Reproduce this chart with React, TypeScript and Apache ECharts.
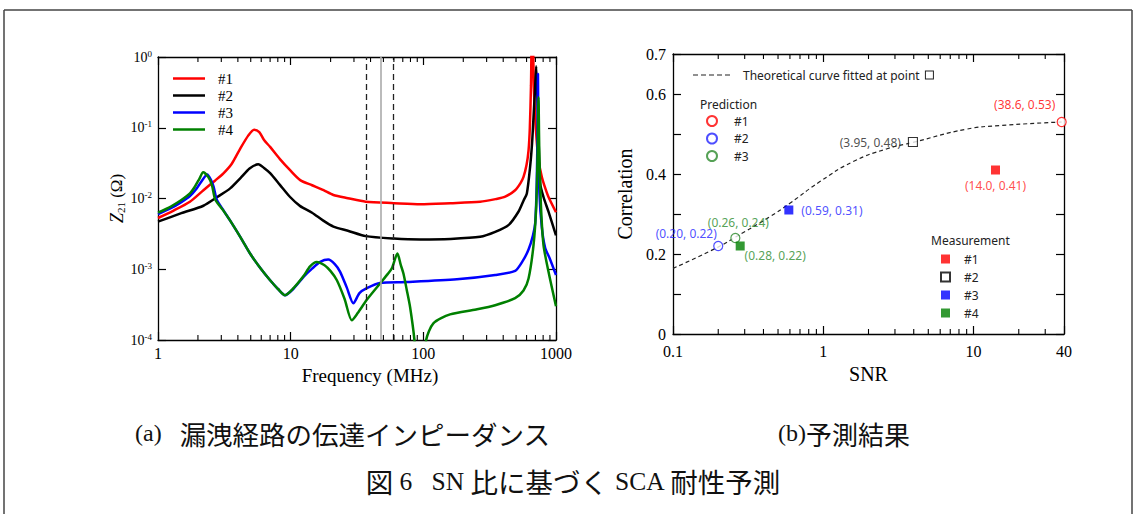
import React, { useEffect, useRef } from "react";
import * as echarts from "echarts";

// ---------------- data ----------------
// (a) transfer impedance Z21 [ohm] vs frequency [MHz]
const leftNames = ["#1", "#2", "#3", "#4"];
const curve1: [number, number][] = [
  [1, 0.0053], [1.3, 0.0067], [1.74, 0.009], [2.2, 0.0131], [2.7, 0.018], [3.1, 0.0225], [3.6, 0.031],
  [4.15, 0.05], [4.8, 0.078], [5.3, 0.094], [5.8, 0.087], [6.3, 0.067], [7.0, 0.0536], [8.3, 0.036],
  [9.9, 0.0251], [11.8, 0.0182], [14.5, 0.0154], [17.7, 0.0131], [21, 0.0112], [27, 0.0101], [36.8, 0.009],
  [60, 0.0086], [95, 0.0083], [160, 0.0086], [268, 0.009], [350, 0.0098], [414, 0.0106], [492, 0.0131],
  [540, 0.0165], [569, 0.0202], [600, 0.03], [621, 0.048], [635, 0.1], [648, 0.4], [658, 2.0], [668, 2.0],
  [680, 0.4], [697, 0.14], [715, 0.066], [738, 0.035], [783, 0.02], [830, 0.014], [878, 0.0105], [1000, 0.0064],
];
const curve2: [number, number][] = [
  [1, 0.0047], [1.5, 0.0062], [2.2, 0.0079], [2.8, 0.0105], [3.5, 0.0139], [4.2, 0.0196], [4.9, 0.0265],
  [5.7, 0.0305], [6.3, 0.027], [7.0, 0.0228], [8.3, 0.0156], [9.9, 0.0105], [11.8, 0.0078], [14.5, 0.0063],
  [17.5, 0.0049], [21, 0.004], [27, 0.0035], [36.8, 0.00294], [60, 0.00272], [95, 0.00264], [160, 0.00268],
  [268, 0.00287], [348, 0.00337], [438, 0.0042], [521, 0.0065], [570, 0.0094], [603, 0.0118], [638, 0.028],
  [660, 0.06], [677, 0.142], [695, 0.35], [709, 0.74], [725, 0.25], [738, 0.08], [760, 0.0163], [805, 0.0105],
  [878, 0.0065], [1000, 0.003],
];
const curve3: [number, number][] = [
  [1, 0.006], [1.25, 0.0073], [1.5, 0.0089], [1.74, 0.0108], [1.95, 0.0137], [2.15, 0.018], [2.35, 0.0218],
  [2.5, 0.0185], [2.63, 0.0145], [2.77, 0.0097], [3.1, 0.0069], [3.49, 0.0049], [4.2, 0.0028], [4.94, 0.00167],
  [6.0, 0.001], [7.0, 0.0007], [8.0, 0.00053], [9.07, 0.00043], [10.5, 0.00053], [12.5, 0.00078], [14.5, 0.00102],
  [16.7, 0.00127], [19.2, 0.00137], [21.5, 0.00118], [23.6, 0.00092], [26.5, 0.00055], [29.7, 0.00033],
  [33, 0.00046], [37.5, 0.00054], [47.2, 0.00064], [75, 0.00066], [179, 0.00072], [348, 0.00083], [492, 0.00095],
  [560, 0.0013], [621, 0.0019], [670, 0.003], [697, 0.0045], [715, 0.015], [725, 0.08], [731, 0.58], [737, 0.08],
  [750, 0.012], [783, 0.0038], [829, 0.002], [900, 0.0014], [1000, 0.00083],
];
const curve4: [number, number][] = [
  [1, 0.0063], [1.25, 0.0077], [1.5, 0.0095], [1.74, 0.0118], [1.9, 0.0148], [2.05, 0.019], [2.19, 0.0235],
  [2.39, 0.0202], [2.55, 0.0155], [2.7, 0.0097], [3.1, 0.0068], [3.49, 0.0049], [4.2, 0.0028], [4.94, 0.00167],
  [6.0, 0.001], [7.0, 0.0007], [8.0, 0.00053], [9.07, 0.00043], [10.5, 0.00054], [12.5, 0.0008], [14.0, 0.0011],
  [15.7, 0.00127], [18, 0.00114], [20, 0.00094], [22.3, 0.0007], [25.5, 0.00038], [28.9, 0.00019], [32, 0.00024],
  [37.5, 0.00037], [47.2, 0.00063], [54, 0.00086], [57.9, 0.00103], [63.8, 0.00167], [67.5, 0.00116],
  [70.8, 0.00087], [75, 0.00051], [79.5, 0.00029], [85.7, 0.0001], [92, 0.00002], [98, 0.00002], [105, 0.0001],
  [119, 0.000172], [159, 0.00023], [250, 0.00027], [348, 0.00031], [492, 0.00039], [569, 0.0005], [621, 0.00074],
  [677, 0.0022], [710, 0.008], [728, 0.05], [738, 0.27], [748, 0.05], [770, 0.008], [805, 0.0022], [878, 0.00092],
  [1000, 0.0003],
];
const markerFreqs = [37, 48, 59]; // MHz: dashed, gray solid, dashed
const leftMinorTicks = [2, 3, 4, 5, 6, 7, 8, 9, 20, 30, 40, 50, 60, 70, 80, 90, 200, 300, 400, 500, 600, 700, 800, 900];

// (b) prediction results: correlation vs SNR
const theoryName = "Theoretical curve fitted at point";
const theoryCurve: [number, number][] = [
  [0.1, 0.164], [0.199, 0.217], [0.261, 0.2425], [0.44, 0.293], [0.6, 0.327], [0.95, 0.381], [1.58, 0.431],
  [2.63, 0.4625], [3.95, 0.479], [8.95, 0.512], [14.9, 0.521], [38.6, 0.53],
];
const predNames = ["#1", "#2", "#3"];
const predSNR = [38.6, 0.2, 0.26];
const predCorr = [0.53, 0.22, 0.24];
const measNames = ["#1", "#2", "#3", "#4"];
const measSNR = [14.0, 3.95, 0.59, 0.28];
const measCorr = [0.41, 0.48, 0.31, 0.22];
const measFilled = [true, false, true, true];
const corrTickLabels = [0, 0.2, 0.4, 0.6, 0.7];
const rightMinorTicks = [0.2, 0.3, 0.4, 0.5, 0.6, 0.7, 0.8, 0.9, 2, 3, 4, 5, 6, 7, 8, 9, 20, 30];

// ---------------- styles ----------------
const SERIF = "'Liberation Serif', 'Times New Roman', serif";
const SANS = "'Noto Sans', 'DejaVu Sans', sans-serif";
const CJK = "'Noto Sans CJK JP', sans-serif";
const leftColors = ["#ff0000", "#000000", "#0000ff", "#008000"];
const predColors = ["#ff0000", "#2222ff", "#2a8a2a"];
const measColors = ["#ff0000", "#000000", "#0000ff", "#008000"];
const measLabelColors = ["#ff2020", "#222222", "#2222ff", "#2a8a2a"];
const predLabelLayout: any[] = [
  { position: "top", offset: [-37, -1] },
  { position: "top", offset: [-32, 4] },
  { position: "top", offset: [3, 1] },
];
const measLabelLayout: any[] = [
  { position: "bottom", distance: 5 },
  { position: "left", distance: 7 },
  { position: "right", distance: 8 },
  { position: "bottom", offset: [35, -6] },
];
const solidLegendIcon = "path://M0,0H32V2.5H0Z";
const dashedLegendIcon =
  "path://M0,0h5v1.2h-5z m8,0h5v1.2h-5z m8,0h5v1.2h-5z m8,0h5v1.2h-5z m8,0h5v1.2h-5z";

const axisLineStyle = { color: "#000", width: 1.3 };
const tickStyle = { color: "#000", width: 1.2 };

function fmtNum(x: number) {
  return x >= 10 ? x.toFixed(1) : x.toFixed(2);
}
function fmtPair(x: number, y: number) {
  return `(${fmtNum(x)}, ${y.toFixed(2)})`;
}

function minorTickSeries(xAxisIndex: number, yAxisIndex: number, ticks: number[], yMin: number, yMax: number, len: number) {
  return {
    type: "custom",
    xAxisIndex,
    yAxisIndex,
    silent: true,
    clip: false,
    z: 6,
    data: ticks.map((v) => [v, yMin]),
    renderItem: (_params: any, api: any) => {
      const v = api.value(0);
      const b = api.coord([v, yMin]);
      const t = api.coord([v, yMax]);
      return {
        type: "group",
        children: [
          { type: "line", shape: { x1: b[0], y1: b[1], x2: b[0], y2: b[1] - len }, style: { stroke: "#000", lineWidth: 1.1 } },
          { type: "line", shape: { x1: t[0], y1: t[1], x2: t[0], y2: t[1] + len }, style: { stroke: "#000", lineWidth: 1.1 } },
        ],
      };
    },
  };
}

function frameAxis(extra: any) {
  return {
    axisLine: { show: true, onZero: false, lineStyle: axisLineStyle },
    axisTick: { show: true, inside: true, length: 8, lineStyle: tickStyle },
    splitLine: { show: false },
    ...extra,
  };
}

function buildOption(): any {
  const leftSeries = [curve1, curve2, curve3, curve4].map((d, i) => ({
    name: leftNames[i],
    type: "line",
    xAxisIndex: 0,
    yAxisIndex: 0,
    data: d,
    symbol: "none",
    smooth: 0.25,
    lineStyle: { color: leftColors[i], width: 2.5 },
    itemStyle: { color: leftColors[i] },
    z: 3,
    ...(i === 0
      ? {
          markLine: {
            silent: true,
            symbol: ["none", "none"],
            label: { show: false },
            animation: false,
            data: markerFreqs.map((f, k) => ({
              xAxis: f,
              lineStyle:
                k === 1
                  ? { color: "#aaaaaa", width: 1.6, type: "solid" }
                  : { color: "#222", width: 1.3, type: [6, 4] },
            })),
          },
        }
      : {}),
  }));

  const predSeries = predSNR.map((x, i) => ({
    name: "Pred " + predNames[i],
    type: "scatter",
    xAxisIndex: 2,
    yAxisIndex: 2,
    symbol: "circle",
    symbolSize: 9,
    data: [[x, predCorr[i]]],
    itemStyle: { color: "#ffffff", borderColor: predColors[i], borderWidth: 1.2 },
    label: {
      show: true,
      formatter: fmtPair(x, predCorr[i]),
      color: predColors[i],
      fontFamily: SANS,
      fontSize: 12,
      ...predLabelLayout[i],
    },
    z: 10,
  }));

  const measSeries = measSNR.map((x, i) => ({
    name: "Meas " + measNames[i],
    type: "scatter",
    xAxisIndex: 2,
    yAxisIndex: 2,
    symbol: "rect",
    symbolSize: 9,
    data: [[x, measCorr[i]]],
    itemStyle: measFilled[i]
      ? { color: measColors[i] }
      : { color: "#ffffff", borderColor: measColors[i], borderWidth: 1.1 },
    label: {
      show: true,
      formatter: fmtPair(x, measCorr[i]),
      color: measLabelColors[i],
      fontFamily: SANS,
      fontSize: 12,
      ...measLabelLayout[i],
    },
    z: 10,
  }));

  return {
    animation: false,
    backgroundColor: "#ffffff",
    grid: [
      { left: 158, top: 57, width: 398, height: 283 },
      { left: 673, top: 54, width: 391, height: 280 },
    ],
    xAxis: [
      frameAxis({
        gridIndex: 0,
        type: "log",
        logBase: 10,
        min: 1,
        max: 1000,
        position: "bottom",
        axisLabel: { formatter: (v: number) => String(Math.round(v)), fontFamily: SERIF, fontSize: 16, color: "#000", margin: 5 },
        name: "Frequency (MHz)",
        nameLocation: "middle",
        nameGap: 22,
        nameTextStyle: { fontFamily: SERIF, fontSize: 19, color: "#000", padding: [0, 0, 0, 26] },
      }),
      frameAxis({ gridIndex: 0, type: "log", logBase: 10, min: 1, max: 1000, position: "top", axisLabel: { show: false } }),
      frameAxis({
        gridIndex: 1,
        type: "log",
        logBase: 10,
        min: 0.1,
        max: 40,
        position: "bottom",
        axisLabel: {
          formatter: (v: number) => String(parseFloat(v.toPrecision(3))),
          fontFamily: SERIF,
          fontSize: 16,
          color: "#000",
          margin: 9,
        },
        name: "SNR",
        nameLocation: "middle",
        nameGap: 28,
        nameTextStyle: { fontFamily: SERIF, fontSize: 20, color: "#000" },
      }),
      frameAxis({ gridIndex: 1, type: "log", logBase: 10, min: 0.1, max: 40, position: "top", axisLabel: { show: false } }),
    ],
    yAxis: [
      frameAxis({
        gridIndex: 0,
        type: "log",
        logBase: 10,
        min: 0.0001,
        max: 1,
        position: "left",
        axisLabel: {
          formatter: (v: number) => `{b|10}{s|${Math.round(Math.log10(v))}}`,
          margin: 6,
          rich: {
            b: { fontFamily: SERIF, fontSize: 14, color: "#000", lineHeight: 16 },
            s: { fontFamily: SERIF, fontSize: 9, color: "#000", lineHeight: 9, verticalAlign: "top" },
          },
        },
        name: "{i|Z}{u|21} (Ω)",
        nameLocation: "middle",
        nameGap: 28,
        nameRotate: 90,
        nameTextStyle: {
          fontFamily: SERIF,
          fontSize: 17,
          color: "#000",
          rich: {
            i: { fontFamily: SERIF, fontStyle: "italic", fontSize: 18, color: "#000", lineHeight: 20 },
            u: { fontFamily: SERIF, fontSize: 11, color: "#000", lineHeight: 12, verticalAlign: "bottom" },
          },
        },
      }),
      frameAxis({ gridIndex: 0, type: "log", logBase: 10, min: 0.0001, max: 1, position: "right", axisLabel: { show: false } }),
      frameAxis({
        gridIndex: 1,
        type: "value",
        min: 0,
        max: 0.7,
        interval: 0.1,
        position: "left",
        axisLabel: {
          formatter: (v: number) => {
            const r = Math.round(v * 10) / 10;
            return corrTickLabels.indexOf(r) >= 0 ? String(r) : "";
          },
          fontFamily: SERIF,
          fontSize: 16,
          color: "#000",
          margin: 7,
        },
        name: "Correlation",
        nameLocation: "middle",
        nameGap: 38,
        nameRotate: 90,
        nameTextStyle: { fontFamily: SERIF, fontSize: 20, color: "#000" },
      }),
      frameAxis({ gridIndex: 1, type: "value", min: 0, max: 0.7, interval: 0.1, position: "right", axisLabel: { show: false } }),
    ],
    legend: [
      {
        data: leftNames,
        left: 173,
        top: 71,
        orient: "vertical",
        icon: solidLegendIcon,
        itemWidth: 32,
        itemHeight: 14,
        itemGap: 2,
        padding: 0,
        selectedMode: false,
        textStyle: { fontFamily: SERIF, fontSize: 15, color: "#000", padding: [0, 0, 0, 8] },
      },
      {
        data: [theoryName],
        left: 693,
        top: 69,
        icon: dashedLegendIcon,
        itemWidth: 37,
        itemHeight: 12,
        padding: 0,
        selectedMode: false,
        formatter: (n: string) => n + "  {box|}",
        textStyle: {
          fontFamily: SANS,
          fontSize: 12,
          color: "#222",
          padding: [0, 0, 0, 8],
          rich: { box: { width: 7, height: 7, borderColor: "#222", borderWidth: 1, backgroundColor: "#fff" } },
        },
      },
      {
        data: predNames.map((n) => "Pred " + n),
        left: 706,
        top: 115,
        orient: "vertical",
        itemWidth: 10,
        itemHeight: 10,
        itemGap: 5.5,
        padding: 0,
        selectedMode: false,
        formatter: (n: string) => n.replace("Pred ", ""),
        textStyle: { fontFamily: SANS, fontSize: 12, color: "#222", padding: [0, 0, 0, 12] },
      },
      {
        data: measNames.map((n) => "Meas " + n),
        left: 940,
        top: 253,
        orient: "vertical",
        itemWidth: 9,
        itemHeight: 9,
        itemGap: 6,
        padding: 0,
        selectedMode: false,
        formatter: (n: string) => n.replace("Meas ", ""),
        textStyle: { fontFamily: SANS, fontSize: 12, color: "#222", padding: [0, 0, 0, 9] },
      },
    ],
    graphic: [
      { type: "line", shape: { x1: 4, y1: 10, x2: 1132, y2: 10 }, style: { stroke: "#444", lineWidth: 1.5 } },
      { type: "line", shape: { x1: 4, y1: 10, x2: 4, y2: 514 }, style: { stroke: "#444", lineWidth: 1.5 } },
      { type: "line", shape: { x1: 1132, y1: 10, x2: 1132, y2: 514 }, style: { stroke: "#444", lineWidth: 1.5 } },
      {
        type: "text",
        style: { x: 700, y: 104, text: "Prediction", fontFamily: SANS, fontSize: 12, fill: "#222", verticalAlign: "middle" },
      },
      {
        type: "text",
        style: { x: 931, y: 240, text: "Measurement", fontFamily: SANS, fontSize: 12, fill: "#222", verticalAlign: "middle" },
      },
      {
        type: "text",
        style: {
          x: 135,
          y: 433,
          text: "{s|(a)}{g|}{j|漏洩経路の伝達インピーダンス}",
          verticalAlign: "middle",
          fill: "#111",
          rich: {
            s: { fontFamily: SERIF, fontSize: 24, fill: "#111" },
            g: { width: 18 },
            j: { fontFamily: CJK, fontSize: 26.5, fill: "#111" },
          },
        },
      },
      {
        type: "text",
        style: {
          x: 778,
          y: 433,
          text: "{s|(b)}{j|予測結果}",
          verticalAlign: "middle",
          fill: "#111",
          rich: {
            s: { fontFamily: SERIF, fontSize: 24, fill: "#111" },
            j: { fontFamily: CJK, fontSize: 26, fill: "#111" },
          },
        },
      },
      {
        type: "text",
        style: {
          x: 573,
          y: 481,
          align: "center",
          text: "{j|図}{s| 6   SN }{j|比に基づく}{s| SCA }{j|耐性予測}",
          verticalAlign: "middle",
          fill: "#111",
          rich: {
            s: { fontFamily: SERIF, fontSize: 25.5, fill: "#111" },
            j: { fontFamily: CJK, fontSize: 27.5, fill: "#111" },
          },
        },
      },
    ],
    series: [
      ...leftSeries,
      minorTickSeries(0, 0, leftMinorTicks, 0.0001, 1, 5),
      {
        name: theoryName,
        type: "line",
        xAxisIndex: 2,
        yAxisIndex: 2,
        data: theoryCurve,
        symbol: "none",
        smooth: true,
        lineStyle: { color: "#222", width: 1.2, type: [4, 3] },
        itemStyle: { color: "#222" },
        z: 4,
      },
      ...predSeries,
      ...measSeries,
      minorTickSeries(2, 2, rightMinorTicks, 0, 0.7, 5),
    ],
  };
}

export default function App() {
  const ref = useRef<HTMLDivElement>(null);
  useEffect(() => {
    if (!ref.current) return;
    const chart = echarts.init(ref.current, undefined, { renderer: "svg" });
    chart.setOption(buildOption());
    return () => chart.dispose();
  }, []);
  return (
    <div
      ref={ref}
      style={{ position: "fixed", left: 0, top: 0, width: 1136, height: 514, background: "#ffffff" }}
    />
  );
}
